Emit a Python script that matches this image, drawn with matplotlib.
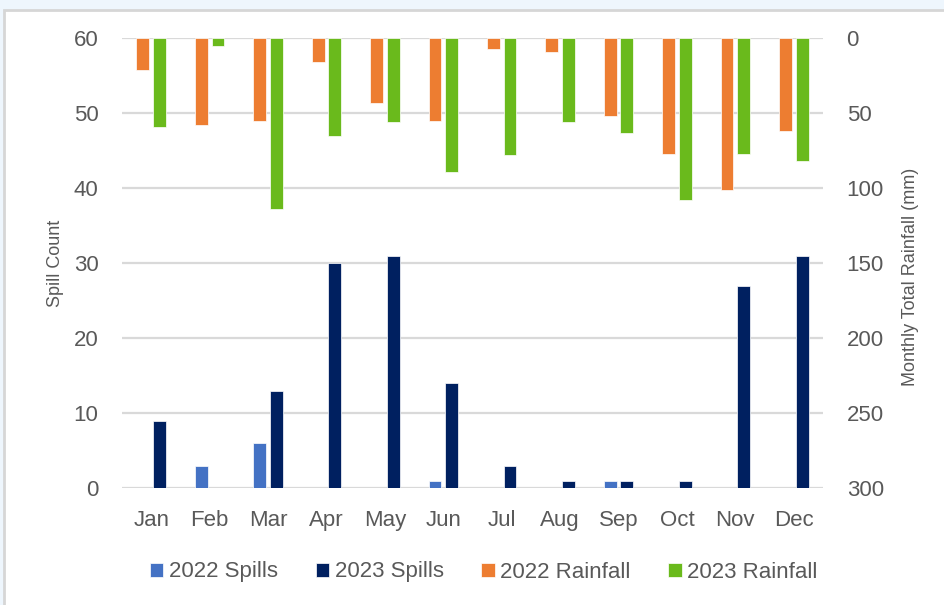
import matplotlib
matplotlib.use('Agg')
import matplotlib.pyplot as plt
from matplotlib.patches import Rectangle
import numpy as np

months = ['Jan', 'Feb', 'Mar', 'Apr', 'May', 'Jun', 'Jul', 'Aug', 'Sep', 'Oct', 'Nov', 'Dec']
spills_2022 = [0, 3, 6, 0, 0, 1, 0, 0, 1, 0, 0, 0]
spills_2023 = [9, 0, 13, 30, 31, 14, 3, 1, 1, 1, 27, 31]
rain_2022 = [21, 58, 55, 16, 43, 55, 7, 9, 52, 77, 101, 62]
rain_2023 = [59, 5, 114, 65, 56, 89, 78, 56, 63, 108, 77, 82]

spill_ticks = [0, 10, 20, 30, 40, 50, 60]
rain_ticks = [0, 50, 100, 150, 200, 250, 300]

c22s = '#4472c4'
c23s = '#002060'
c22r = '#ed7d31'
c23r = '#6aba1c'
txt = '#595959'
grid = '#d9d9d9'

plt.rcParams['font.family'] = ['Liberation Sans', 'DejaVu Sans']

fig = plt.figure(figsize=(9.45, 6.05), dpi=100)
fig.patch.set_facecolor('#eef6fd')
# white panel with grey border like the screenshot
fig.patches.append(Rectangle((4 / 945, -0.05), 1.05, 1 - 10 / 605 + 0.05,
                             transform=fig.transFigure, facecolor='white',
                             edgecolor='#d6d6d6', linewidth=2, zorder=-10))

ax = fig.add_axes([122 / 945, 117 / 605, 701 / 945, 450 / 605])
ax.set_facecolor('none')
ax2 = ax.twinx()

x = np.arange(len(months))
w = 0.22
off = 0.143

ax.bar(x - off, spills_2022, w, color=c22s, edgecolor='white', linewidth=0.5, label='2022 Spills', zorder=3)
ax.bar(x + off, spills_2023, w, color=c23s, edgecolor='white', linewidth=0.5, label='2023 Spills', zorder=3)
ax2.bar(x - off, rain_2022, w, color=c22r, edgecolor='white', linewidth=0.5, label='2022 Rainfall', zorder=3)
ax2.bar(x + off, rain_2023, w, color=c23r, edgecolor='white', linewidth=0.5, label='2023 Rainfall', zorder=3)

ax.set_xlim(-0.5, 11.5)
ax.set_ylim(0, 60)
ax.set_yticks(spill_ticks)
ax2.set_ylim(300, 0)
ax2.set_yticks(rain_ticks)
ax.set_xticks(x)
ax.set_xticklabels(months)

ax.grid(axis='y', color=grid, linewidth=1.6, zorder=0)
ax.set_axisbelow(True)
for a in (ax, ax2):
    for s in a.spines.values():
        s.set_visible(False)

ax.tick_params(axis='y', length=0, pad=17, labelsize=16, labelcolor=txt)
ax.tick_params(axis='x', length=0, pad=16, labelsize=16, labelcolor=txt)
ax2.tick_params(axis='y', length=0, pad=17, labelsize=16, labelcolor=txt)

ax.set_ylabel('Spill Count', fontsize=13, color=txt)
ax.yaxis.set_label_coords(-0.083, 0.5)
ax2.set_ylabel('Monthly Total Rainfall (mm)', fontsize=13, color=txt)
ax2.yaxis.set_label_coords(1.112, 0.47)

h1, l1 = ax.get_legend_handles_labels()
h2, l2 = ax2.get_legend_handles_labels()
leg = fig.legend(h1 + h2, l1 + l2, loc='center', bbox_to_anchor=(0.512, 1 - 572 / 605),
                 ncol=4, frameon=False, fontsize=16, handlelength=0.6, handleheight=0.6,
                 handletextpad=0.25, columnspacing=1.7)
for t in leg.get_texts():
    t.set_color(txt)

fig.savefig('out.png', dpi=100, facecolor=fig.get_facecolor())
